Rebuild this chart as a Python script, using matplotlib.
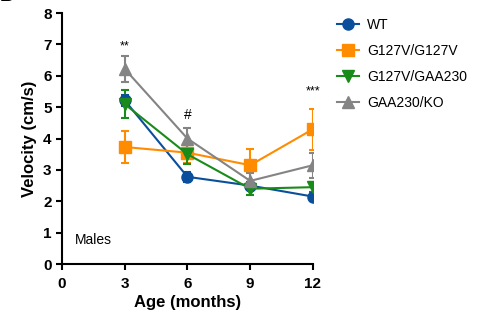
import matplotlib.pyplot as plt
from matplotlib.lines import Line2D

plt.rcParams["font.family"] = ["Liberation Sans", "DejaVu Sans"]

ages = [3, 6, 9, 12]

wt = [5.22, 2.78, 2.50, 2.15]
wt_err = [0.18, 0.15, 0.12, 0.15]

g127v = [3.73, 3.55, 3.15, 4.30]
g127v_err = [0.50, 0.33, 0.52, 0.65]

g127v_gaa = [5.10, 3.50, 2.40, 2.45]
g127v_gaa_err = [0.45, 0.30, 0.20, 0.15]

gaa_ko = [6.22, 4.00, 2.65, 3.15]
gaa_ko_err = [0.42, 0.35, 0.25, 0.40]

labels = ["WT", "G127V/G127V", "G127V/GAA230", "GAA230/KO"]
colors = ["#0a4f9c", "#ff8c00", "#1a8a1a", "#848484"]
markers = ["o", "s", "v", "^"]

fig = plt.figure(figsize=(4.8, 3.2), dpi=100)
ax = fig.add_axes([0.129, 0.175, 0.523, 0.784])

series = [(wt, wt_err), (g127v, g127v_err), (g127v_gaa, g127v_gaa_err), (gaa_ko, gaa_ko_err)]
handles = []
for (y, e), lab, c, m in zip(series, labels, colors, markers):
    ax.errorbar(ages, y, yerr=e, color=c, marker=m, markersize=8, lw=1.5,
                capsize=3, elinewidth=1.5, capthick=1.5)
    handles.append(Line2D([], [], color=c, marker=m, markersize=8, lw=1.5, label=lab))

ax.set_xlim(0, 12)
ax.set_ylim(0, 8)
ax.set_xticks([0, 3, 6, 9, 12])
ax.set_yticks(range(0, 9))
ax.spines["top"].set_visible(False)
ax.spines["right"].set_visible(False)
ax.spines["left"].set_linewidth(1.5)
ax.spines["bottom"].set_linewidth(1.5)
ax.tick_params(width=1.5, length=4, labelsize=11)
ax.tick_params(axis="x", pad=5)
for t in ax.get_xticklabels() + ax.get_yticklabels():
    t.set_fontweight("bold")
ax.set_xlabel("Age (months)", fontsize=12, fontweight="bold", labelpad=3)
ax.set_ylabel("Velocity (cm/s)", fontsize=12, fontweight="bold", labelpad=4)

ax.text(3, 6.95, "**", ha="center", va="center", fontsize=9)
ax.text(6, 4.75, "#", ha="center", va="center", fontsize=10)
ax.text(12, 5.5, "***", ha="center", va="center", fontsize=9)
ax.text(0.6, 0.75, "Males", ha="left", va="center", fontsize=10)

ax.legend(handles=handles, loc="upper left", bbox_to_anchor=(1.045, 1.03),
          frameon=False, fontsize=10, handlelength=1.6, labelspacing=0.85,
          handletextpad=0.6)

fig.text(0.0, 0.996, "B", fontsize=14, fontweight="bold", va="baseline", ha="left")

fig.savefig("out.png", dpi=100)
